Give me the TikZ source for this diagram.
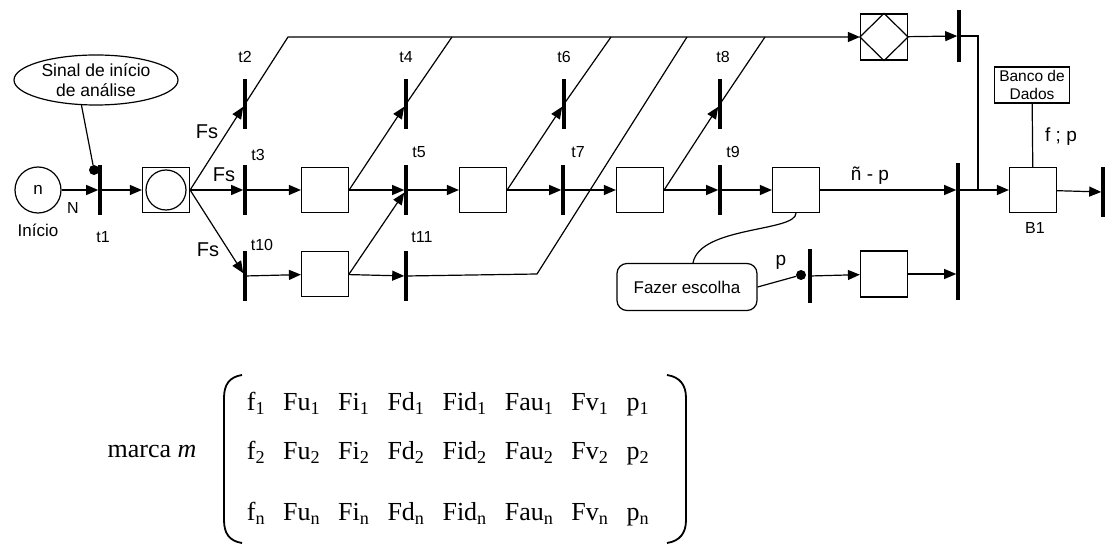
\documentclass[tikz,border=0pt]{standalone}
\usepackage{fontspec}
\setmainfont{Liberation Sans}
\newfontfamily\tnr{Liberation Serif}
\usetikzlibrary{arrows.meta,positioning,shapes.geometric,calc}

\begin{document}
\begin{tikzpicture}[x=1pt, y=-1pt,
  place/.style={draw, line width=1.2pt, minimum width=47pt, minimum height=45pt, inner sep=0pt},
  bar/.style={fill=black, minimum width=3.2pt, minimum height=50pt, inner sep=0pt},
  tok/.style={circle, fill=black, minimum size=10pt, inner sep=0pt},
  arr/.style={-{Triangle[length=12pt,width=10pt]}, line width=1.2pt},
  ln/.style={line width=1.2pt},
  lab/.style={font=\fontsize{16}{18}\selectfont, inner sep=1pt},
  txt/.style={font=\fontsize{17}{20}\selectfont, align=center},
  fs/.style={font=\fontsize{20}{22}\selectfont, inner sep=1pt},
  mtx/.style={font=\tnr\fontsize{26}{28}\selectfont, inner sep=0pt}]
\useasboundingbox (0,0) rectangle (1112,545);
% start
\node[draw, circle, line width=1.2pt, minimum size=46pt, inner sep=0pt, txt] (ini) at (38,190) {n};
\node[txt] at (38,230) {Início};
\node[lab] at (73,208) {N};
\node[draw, ellipse, line width=1.2pt, minimum width=164pt, minimum height=50pt, inner sep=0pt, txt, font=\fontsize{17.5}{20}\selectfont] (sinal) at (96,80) {Sinal de início\\de análise};
\node[tok] (dot1) at (94,170) {};
\node[bar] (t1) at (100,190) {};
\node[lab] at (103,237) {t1};
\node[place] (s0) at (166,190) {};
\node[draw, circle, line width=1.2pt, minimum size=40pt] (s0c) at (s0) {};
% first column of transitions
\node[bar] (t2) at (245,104) {};
\node[bar] (t3) at (245,190) {};
\node[bar] (t10) at (245,276) {};
\node[lab] at (245,57) {t2};
\node[lab] at (258,155) {t3};
\node[lab] at (262,245) {t10};
\node[fs] at (207,132) {Fs};
\node[fs] at (224,175) {Fs};
\node[fs] at (208,250) {Fs};
% main row
\node[place] (b1) at (325,190) {};
\node[place] (b10) at (325,274) {};
\node[bar] (t4) at (406,104) {};
\node[bar] (t5) at (406,190) {};
\node[bar] (t11) at (406,276) {};
\node[lab] at (406,57) {t4};
\node[lab] at (419,152) {t5};
\node[lab] at (422,237) {t11};
\node[place] (b2) at (483,190) {};
\node[bar] (t6) at (564,104) {};
\node[bar] (t7) at (563,190) {};
\node[lab] at (564,57) {t6};
\node[lab] at (578,152) {t7};
\node[place] (b3) at (640,190) {};
\node[bar] (t8) at (720,104) {};
\node[bar] (t9) at (720,190) {};
\node[lab] at (723,57) {t8};
\node[lab] at (733,152) {t9};
\node[place] (b4) at (796,190) {};
\node[txt, font=\fontsize{19}{21}\selectfont] at (870,176) {ñ - p};
% top and right part
\node[place, minimum height=46pt] (d) at (884,37) {};
\node[bar, minimum height=52pt] (tA) at (959,36) {};
\node[bar, minimum height=137pt] (tB) at (958,232) {};
\node[place] (B1) at (1033,190) {};
\node[lab] at (1035,228) {B1};
\node[draw, line width=1.2pt, txt, font=\fontsize{15.5}{18}\selectfont, inner sep=2pt, minimum width=75pt, minimum height=36pt] (banco) at (1032,85) {Banco de\\Dados};
\node[txt, font=\fontsize{19}{21}\selectfont] at (1061,137) {f ; p};
\node[bar] (tC) at (1103,192) {};
% choice branch
\node[draw, rounded corners=10pt, line width=1.2pt, minimum width=140pt, minimum height=47pt, txt] (fazer) at (687,287) {Fazer escolha};
\node[tok] (dot2) at (801,275) {};
\node[bar, minimum height=54pt] (tD) at (810,276) {};
\node[fs, font=\fontsize{19}{21}\selectfont] at (781,262) {p};
\node[place, minimum height=46pt] (b5) at (884,274) {};
% marking
\node[mtx] (marca) at (152,452) {marca \textit{m}};
\node[mtx] (mat) at (448,460) {\setlength\tabcolsep{9pt}\begin{tabular}{@{}*{8}{c}@{}}
f\textsubscript{1} & Fu\textsubscript{1} & Fi\textsubscript{1} & Fd\textsubscript{1} & Fid\textsubscript{1} & Fau\textsubscript{1} & Fv\textsubscript{1} & p\textsubscript{1}\\[21pt]
f\textsubscript{2} & Fu\textsubscript{2} & Fi\textsubscript{2} & Fd\textsubscript{2} & Fid\textsubscript{2} & Fau\textsubscript{2} & Fv\textsubscript{2} & p\textsubscript{2}\\[33pt]
f\textsubscript{n} & Fu\textsubscript{n} & Fi\textsubscript{n} & Fd\textsubscript{n} & Fid\textsubscript{n} & Fau\textsubscript{n} & Fv\textsubscript{n} & p\textsubscript{n}
\end{tabular}};
\draw[line width=1.8pt] (242,375) .. controls (229,377) and (224,385) .. (224,398) -- (224,520) .. controls (224,533) and (229,541) .. (242,543);
\draw[line width=1.8pt] (667,375) .. controls (680,377) and (686,385) .. (686,398) -- (686,520) .. controls (686,533) and (680,541) .. (667,543);
% arcs
\draw[arr] (ini) -- (t1);
\draw[ln] (sinal.240) -- (dot1);
\draw[arr] (t1) -- (s0);
\draw[arr] (s0.east) -- (t2);
\draw[arr] (s0.east) -- (t3);
\draw[arr] (s0.east) -- (t10);
\draw[arr] (t2.center) -- (288,37) -- (d.west);
\draw[arr] (t3) -- (b1);
\draw[arr] (t10) -- (b10);
\draw[arr] (b1.east) -- (t4);
\draw[ln] (t4.center) -- (452,37);
\draw[arr] (b1) -- (t5);
\draw[arr] (b10.east) -- (t5);
\draw[arr] (b10) -- (t11);
\draw[ln] (t11.center) -- (537,274) -- (687,37);
\draw[arr] (t5) -- (b2);
\draw[arr] (b2.east) -- (t6);
\draw[ln] (t6.center) -- (611,37);
\draw[arr] (b2) -- (t7);
\draw[arr] (t7) -- (b3);
\draw[arr] (b3.east) -- (t8);
\draw[ln] (t8.center) -- (765,37);
\draw[arr] (b3) -- (t9);
\draw[arr] (t9) -- (b4);
\draw[arr] (b4) -- (b4 -| tB.west);
\draw[ln] (d.north) -- (d.east) -- (d.south) -- (d.west) -- cycle;
\draw[arr] (d) -- (tA);
\draw[ln] (tA.center) -- (978,36) -- (978,190);
\draw[arr] (tB.east |- B1) -- (B1);
\draw[ln] (banco) -- (B1);
\draw[arr] (B1) -- (tC);
\draw[ln] (b4.south) .. controls (796,232) and (700,226) .. ($(fazer.north)+(6,0)$);
\draw[ln] (fazer.east) -- (dot2);
\draw[arr] (tD) -- (b5);
\draw[arr] (b5) -- (b5 -| tB.west);
\end{tikzpicture}
\end{document}
